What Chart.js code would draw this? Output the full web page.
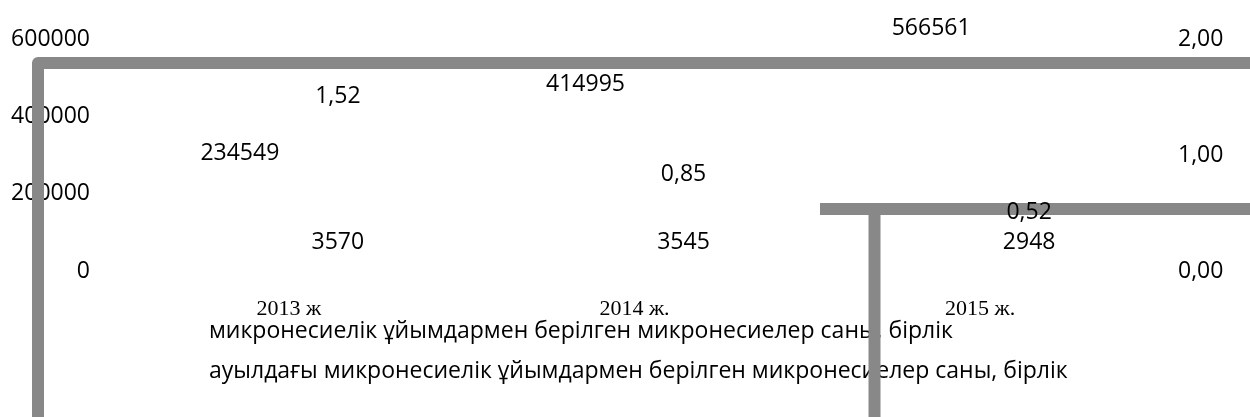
<!DOCTYPE html>
<html>
<head>
<meta charset="utf-8">
<script src="https://cdn.jsdelivr.net/npm/chart.js@4/dist/chart.umd.min.js"></script>
<style>
  html, body { margin: 0; padding: 0; background: #ffffff; }
  #wrap { position: relative; width: 1250px; height: 417px; }
</style>
</head>
<body>
<div id="wrap"><canvas id="chart"></canvas></div>
<script>
/* микронесиелер: ұйымдар берген саны, ауылдағы саны және үлесі */

const years = ['2013 ж', '2014 ж.', '2015 ж.'];
const loansTotal = [234549, 414995, 566561];
const loansRural = [3570, 3545, 2948];
const ruralShare = [1.52, 0.85, 0.52];
const leftTicks = [0, 200000, 400000, 600000];
const rightTicks = [0, 1, 2];

const legendNames = [
  'микронесиелік ұйымдармен берілген микронесиелер саны, бірлік',
  'ауылдағы микронесиелік ұйымдармен берілген микронесиелер саны, бірлік'
];

(function () {
  'use strict';

  const canvas = document.getElementById('chart');
  const sans = '"Open Sans", "Noto Sans", sans-serif';
  const serif = '"Liberation Serif", "DejaVu Serif", serif';
  const ink = '#000000';
  const frameGrey = '#888888';

  const comma = function (v) { return v.toFixed(2).replace('.', ','); };

  /* легенда мен сұр жақтау: деректерден бұрын салынады */
  const framePlugin = {
    id: 'frame',
    beforeDatasetsDraw: function (chart) {
      const ctx = chart.ctx;
      ctx.save();
      ctx.fillStyle = ink;
      ctx.font = '23px ' + sans;
      ctx.textAlign = 'left';
      ctx.textBaseline = 'alphabetic';
      ctx.fillText(chart.data.datasets[0].label, 209, 338);
      ctx.fillText(chart.data.datasets[1].label, 209, 378);

      ctx.strokeStyle = frameGrey;
      ctx.lineWidth = 12;
      ctx.lineJoin = 'round';
      ctx.lineCap = 'butt';
      ctx.beginPath();
      ctx.moveTo(38, 430);
      ctx.lineTo(38, 63);
      ctx.lineTo(1260, 63);
      ctx.stroke();

      ctx.beginPath();
      ctx.moveTo(820, 209);
      ctx.lineTo(1260, 209);
      ctx.moveTo(874.5, 209);
      ctx.lineTo(874.5, 430);
      ctx.stroke();
      ctx.restore();
    },
    afterDatasetsDraw: function (chart) {
      const ctx = chart.ctx;
      ctx.save();
      ctx.fillStyle = ink;
      ctx.font = '23px ' + sans;
      ctx.textAlign = 'center';
      ctx.textBaseline = 'middle';
      chart.data.datasets.forEach(function (ds, di) {
        const meta = chart.getDatasetMeta(di);
        meta.data.forEach(function (el, i) {
          const v = ds.data[i];
          if (di === 2) {
            ctx.fillText(comma(v), el.x, el.y + 1.5);
          } else {
            ctx.fillText(String(v), el.x, Math.max(el.y - 27, 28));
          }
        });
      });
      ctx.restore();
    }
  };

  new Chart(canvas, {
    type: 'bar',
    data: {
      labels: years,
      datasets: [
        {
          label: legendNames[0],
          data: loansTotal,
          yAxisID: 'y',
          stack: 'a',
          backgroundColor: 'rgba(0,0,0,0)'
        },
        {
          label: legendNames[1],
          data: loansRural,
          yAxisID: 'y',
          stack: 'b',
          backgroundColor: 'rgba(0,0,0,0)'
        },
        {
          label: '',
          data: ruralShare,
          yAxisID: 'y1',
          stack: 'b',
          backgroundColor: 'rgba(0,0,0,0)'
        }
      ]
    },
    options: {
      responsive: true,
      maintainAspectRatio: false,
      animation: false,
      layout: { padding: { top: 30, right: 0, bottom: 0, left: 0 } },
      datasets: { bar: { categoryPercentage: 0.567, barPercentage: 0.9 } },
      plugins: {
        legend: { display: false },
        tooltip: { enabled: false }
      },
      scales: {
        x: {
          grid: { display: false, drawTicks: false },
          border: { display: false },
          ticks: { color: ink, font: { size: 22, family: serif }, padding: 25, maxRotation: 0 },
          afterFit: function (s) { s.height = 146; }
        },
        y: {
          position: 'left',
          min: 0,
          max: 600000,
          grid: { display: false, drawTicks: false },
          border: { display: false },
          afterBuildTicks: function (s) { s.ticks = leftTicks.map(function (v) { return { value: v }; }); },
          ticks: {
            color: ink,
            font: { size: 23, family: sans },
            padding: 26,
            callback: function (v) { return String(v); }
          },
          afterFit: function (s) { s.width = 116; }
        },
        y1: {
          position: 'right',
          min: 0,
          max: 2,
          grid: { display: false, drawTicks: false },
          border: { display: false },
          afterBuildTicks: function (s) { s.ticks = rightTicks.map(function (v) { return { value: v }; }); },
          ticks: {
            color: ink,
            font: { size: 23, family: sans },
            padding: 25,
            callback: function (v) { return comma(v); }
          },
          afterFit: function (s) { s.width = 97; }
        }
      }
    },
    plugins: [framePlugin]
  });
})();
</script>
</body>
</html>
